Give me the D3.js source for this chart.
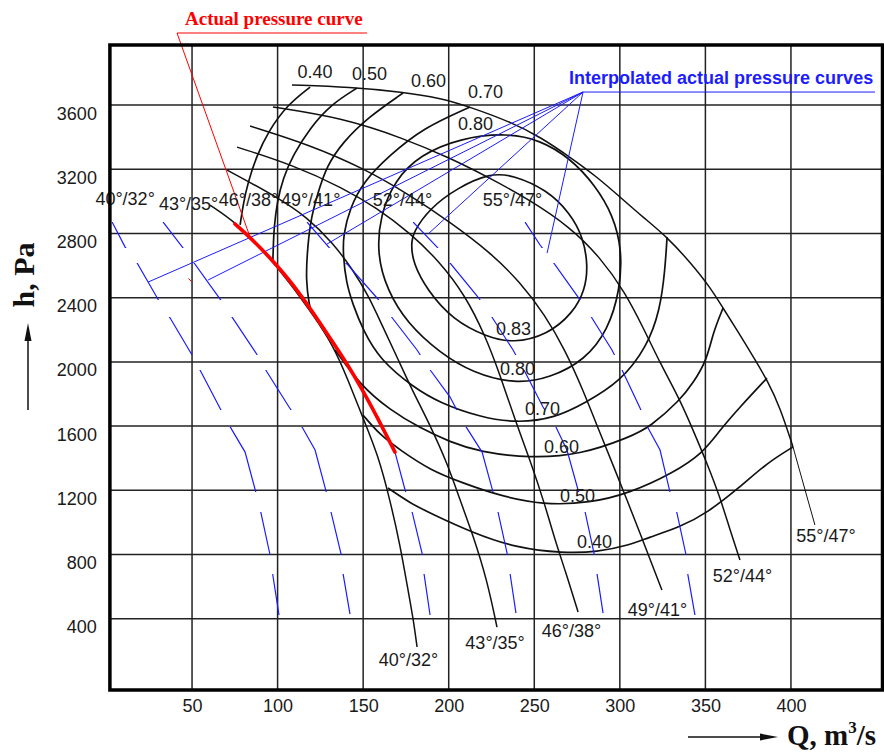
<!DOCTYPE html>
<html>
<head>
<meta charset="utf-8">
<script src="https://cdn.jsdelivr.net/npm/d3@7"></script>
<style>
  body { margin: 0; background: #fff; }
  svg { display: block; }
</style>
</head>
<body>
<svg id="chart" width="884" height="754"></svg>
<script>
// ---- axes ----
const xTicks = [50, 100, 150, 200, 250, 300, 350, 400];
const yTicks = [400, 800, 1200, 1600, 2000, 2400, 2800, 3200, 3600];

// ---- fan pressure curves by blade angle, [Q m3/s, h Pa] ----
const bladeNames = ["40°/32°", "43°/35°", "46°/38°", "49°/41°", "52°/44°", "55°/47°"];
const blade40_32 = [[60.5,2977],[76.3,2865],[93.8,2666],[107.3,2491],[120.7,2292],[132.4,2105],[141.2,1887],[149.9,1650],[158.7,1420],[165.7,1139],[171.6,859],[176.2,579],[179.2,404],[181.5,224]];
const blade43_35 = [[70.5,3195],[99.7,3027],[117.2,2902],[132.4,2740],[144.1,2572],[152.9,2416],[161.0,2230],[169.8,2030],[178.6,1825],[189.1,1607],[199.6,1357],[206.6,1139],[214.2,921],[222.4,641],[228.2,348]];
const blade46_38 = [[76.3,3338],[109.0,3226],[138.3,3083],[158.1,2958],[177.4,2803],[194.9,2622],[209.5,2416],[221.2,2167],[230.0,1918],[238.8,1638],[247.5,1389],[256.3,1108],[262.1,890],[268.0,703],[275.6,442]];
const blade49_41 = [[83.9,3469],[119.0,3351],[149.9,3208],[177.4,3039],[200.8,2871],[224.1,2684],[241.7,2497],[256.3,2292],[268.0,2074],[278.5,1825],[288.4,1557],[297.2,1326],[304.2,1139],[311.8,934],[319.4,722],[324.6,579]];
const blade52_44 = [[97.3,3588],[138.3,3519],[173.3,3394],[200.8,3270],[224.1,3145],[247.5,3008],[270.9,2840],[288.4,2653],[303.0,2435],[313.5,2217],[323.5,1993],[335.2,1762],[342.8,1575],[350.9,1370],[358.5,1158],[364.4,953],[370.2,766]];
const blade55_47 = [[108.4,3725],[142.3,3712],[173.3,3681],[194.9,3644],[212.5,3588],[237.6,3488],[253.4,3401],[270.9,3276],[286.7,3152],[300.1,3027],[313.5,2902],[327.6,2778],[341.0,2622],[352.7,2466],[360.3,2335],[368.5,2198],[380.2,1993],[386.0,1887],[393.6,1719],[401.2,1470]];
const blade55_47Leader = [[401.2,1470],[414.0,984]];

// ---- efficiency contours ----
const eff40Upper = [[119.0,3712],[105.5,3600],[94.4,3432],[88.0,3289],[82.7,3120],[79.8,2977],[78.1,2853]];
const eff40Lower = [[164.5,1214],[177.4,1121],[189.1,1058],[214.2,934],[239.9,840],[266.8,809],[286.7,815],[305.9,859],[315.9,903],[335.2,971],[350.9,1058],[370.2,1220],[386.0,1370],[401.2,1470]];
const eff50Upper = [[146.4,3706],[130.7,3600],[119.0,3457],[109.0,3289],[103.2,3145],[99.7,2996],[97.9,2834],[97.5,2720],[97.2,2622]];
const eff50Lower = [[149.9,1669],[159.9,1544],[171.6,1451],[189.1,1326],[208.4,1245],[228.2,1171],[255.1,1108],[282.6,1121],[305.9,1183],[331.1,1308],[348.6,1432],[358.5,1575],[370.2,1719],[386.0,1899]];
const eff60Upper = [[173.3,3675],[152.3,3519],[138.3,3370],[128.9,3226],[123.1,3039],[119.0,2871],[117.2,2666],[116.6,2510],[118.4,2354],[120.1,2298]];
const eff60Lower = [[133.6,2074],[148.2,1856],[165.7,1700],[183.2,1588],[200.8,1501],[218.3,1438],[247.5,1401],[276.7,1420],[305.9,1532],[317.6,1594],[335.2,1762],[342.8,1868],[350.9,2012],[354.4,2180],[360.3,2335]];
const eff70 = [[212.5,3588],[185.0,3457],[165.7,3289],[149.9,3120],[142.3,2958],[138.3,2790],[138.3,2666],[140.0,2497],[144.1,2354],[149.9,2198],[159.9,2012],[179.2,1843],[194.9,1744],[218.3,1656],[239.9,1619],[262.1,1650],[279.7,1744],[300.1,1874],[315.9,2093],[323.5,2323],[326.4,2572],[327.6,2778]];
const eff80 = [[234.1,3426],[253.4,3382],[270.9,3270],[285.5,3102],[296.0,2915],[301.3,2697],[300.1,2448],[293.1,2198],[279.7,2012],[259.2,1899],[238.8,1862],[214.2,1931],[194.9,2055],[175.6,2242],[164.0,2448],[158.1,2666],[159.9,2915],[168.6,3133],[183.2,3289],[206.6,3394]];
const eff83 = [[224.1,3176],[237.6,3164],[257.5,3071],[270.9,2927],[278.5,2778],[281.4,2603],[279.7,2448],[272.6,2304],[257.5,2167],[237.6,2117],[222.4,2155],[202.5,2261],[187.3,2448],[179.2,2616],[178.0,2728],[179.2,2809],[189.1,2958],[204.9,3083]];

// ---- measured (actual) pressure curve ----
const actualCurve = [[75.1,2859],[84.5,2770],[94.5,2660],[105.0,2535],[114.0,2410],[124.0,2255],[132.8,2115],[140.8,1985],[149.4,1830],[158.5,1650],[168.6,1438]];
const actualMark = [[47.9,2520],[49.8,2499]];

// ---- interpolated actual pressure curves (drawn broken in h bands) ----
const interp1 = [[3.3,2871],[10.9,2715],[17.9,2616],[30.7,2379],[37.2,2273],[50.0,2043],[55.9,1924],[67.5,1688],[73.4,1575],[81.0,1438],[87.4,1183],[90.3,1058],[95.6,797],[97.3,666],[100.9,417]];
const interp2 = [[33.1,2871],[44.8,2709],[51.2,2616],[66.4,2391],[73.4,2279],[87.4,2055],[93.8,1937],[106.7,1719],[114.3,1594],[121.9,1451],[128.3,1195],[131.2,1065],[137.1,803],[138.3,678],[142.3,429]];
const interp3 = [[168.6,1438],[174.5,1202],[178.6,1065],[184.4,809],[185.6,678],[189.1,423]];
const interp4 = [[117.2,2871],[132.4,2684],[141.2,2603],[158.1,2398],[165.7,2292],[181.5,2074],[187.9,1968],[200.8,1781],[208.4,1625],[219.5,1438],[225.9,1189],[228.8,1065],[234.1,809],[235.8,685],[239.3,435]];
const interp5 = [[179.2,2871],[193.2,2715],[200.8,2616],[217.1,2404],[224.1,2298],[237.6,2074],[244.6,1937],[255.1,1719],[262.1,1607],[269.1,1451],[275.6,1202],[279.7,1065],[284.9,809],[286.7,678],[290.2,435]];
const interp6 = [[244.6,2871],[253.4,2728],[261.0,2622],[275.6,2404],[282.6,2292],[295.4,2074],[301.3,1949],[311.8,1713],[316.5,1588],[323.5,1451],[329.3,1189],[333.4,1058],[338.7,797],[339.8,672],[343.9,423]];
const dashBands = [[2871,2709],[2616,2385],[2279,2043],[1949,1700],[1594,1189],[1065,797],[678,423]];

// ---- annotations ----
const interpLeaderApex = [278.5, 3681];
const interpLeaderEnds = [[24.3,2497],[59.4,2510],[128.9,2734],[187.9,2796],[257.5,2678]];
const interpUnderlineEnd = 449.1;
const actualLeaderEnd = [83.9, 2778];

const bladeLabelTop = [[10.9,2977],[48.0,2946],[83.0,2971],[119.3,2971],[173.0,2971],[237.3,2971]];
const bladeLabelBottom = [[176.5,105],[227.1,211],[271.8,286],[322.0,417],[371.7,629],[420.5,878]];
const effNamesTop = ["0.40", "0.50", "0.60", "0.70", "0.80"];
const effLabelTop = [[121.8,3768],[153.7,3756],[188.2,3712],[221.5,3644],[215.7,3444]];
const effNamesBottom = ["0.83", "0.80", "0.70", "0.60", "0.50", "0.40"];
const effLabelBottom = [[237.9,2167],[240.2,1918],[254.8,1669],[265.9,1432],[275.3,1127],[285.2,840]];

// ---- drawing ----
const SANS = "'Liberation Sans', Arial, sans-serif";
const SERIF = "'Liberation Serif', 'Times New Roman', serif";
const svg = d3.select("#chart");
const plotLeft = 109.9, plotRight = 882.5, plotTop = 45, plotBottom = 690;

const x = d3.scaleLinear().domain([2, 453.5]).range([plotLeft, plotRight]);
const y = d3.scaleLinear().domain([-44, 3974]).range([plotBottom, plotTop]);

// grid
const grid = svg.append("g").attr("stroke", "#222").attr("stroke-width", 1.5);
grid.selectAll("line.v").data(xTicks).join("line").attr("class", "v")
  .attr("x1", d => x(d)).attr("x2", d => x(d)).attr("y1", plotTop).attr("y2", plotBottom);
grid.selectAll("line.h").data(yTicks).join("line").attr("class", "h")
  .attr("y1", d => y(d)).attr("y2", d => y(d)).attr("x1", plotLeft).attr("x2", plotRight);

// axes (labels only)
const yAxis = svg.append("g").attr("transform", `translate(${plotLeft},0)`)
  .call(d3.axisLeft(y).tickValues(yTicks).tickSize(0).tickFormat(d3.format("d")));
yAxis.select(".domain").remove();
yAxis.selectAll("text").attr("x", -13).attr("dy", null).attr("y", 14)
  .attr("font-family", SANS).attr("font-size", 18).attr("fill", "#1a1a1a");

const xAxis = svg.append("g").attr("transform", `translate(0,${plotBottom})`)
  .call(d3.axisBottom(x).tickValues(xTicks).tickSize(0).tickFormat(d3.format("d")));
xAxis.select(".domain").remove();
xAxis.selectAll("text").attr("dy", null).attr("y", 22)
  .attr("font-family", SANS).attr("font-size", 18).attr("fill", "#1a1a1a");

// curve generators
const smooth = d3.line().x(d => x(d[0])).y(d => y(d[1])).curve(d3.curveBasis);
const smoothClosed = d3.line().x(d => x(d[0])).y(d => y(d[1])).curve(d3.curveBasisClosed);
const straight = d3.line().x(d => x(d[0])).y(d => y(d[1]));

// efficiency contours
const effGroup = svg.append("g").attr("fill", "none").attr("stroke", "#111").attr("stroke-width", 1.7);
[eff40Upper, eff40Lower, eff50Upper, eff50Lower, eff60Upper, eff60Lower, eff70].forEach(c =>
  effGroup.append("path").attr("d", smooth(c)));
[eff80, eff83].forEach(c => effGroup.append("path").attr("d", smoothClosed(c)));

// blade-angle pressure curves
const bladeGroup = svg.append("g").attr("fill", "none").attr("stroke", "#111").attr("stroke-width", 1.5);
[blade40_32, blade43_35, blade46_38, blade49_41, blade52_44, blade55_47].forEach(c =>
  bladeGroup.append("path").attr("d", smooth(c)));
bladeGroup.append("path").attr("d", straight(blade55_47Leader)).attr("stroke-width", 1);

// interpolated curves, clipped to h bands
const clip = svg.append("defs").append("clipPath").attr("id", "bands");
clip.selectAll("rect").data(dashBands).join("rect")
  .attr("x", plotLeft).attr("width", plotRight - plotLeft)
  .attr("y", d => y(d[0])).attr("height", d => y(d[1]) - y(d[0]));
const blue = "#1c1cff";
const interpGroup = svg.append("g").attr("fill", "none").attr("stroke", blue).attr("stroke-width", 1.2)
  .attr("clip-path", "url(#bands)");
[interp1, interp2, interp3, interp4, interp5, interp6].forEach(c =>
  interpGroup.append("path").attr("d", straight(c)));

// leaders to interpolated curves
const leaders = svg.append("g").attr("stroke", blue).attr("stroke-width", 1);
leaders.selectAll("line").data(interpLeaderEnds).join("line")
  .attr("x1", x(interpLeaderApex[0])).attr("y1", y(interpLeaderApex[1]))
  .attr("x2", d => x(d[0])).attr("y2", d => y(d[1]));
leaders.append("line")
  .attr("x1", x(interpLeaderApex[0])).attr("y1", y(interpLeaderApex[1]))
  .attr("x2", x(interpUnderlineEnd)).attr("y2", y(interpLeaderApex[1]));
svg.append("text").text("Interpolated actual pressure curves")
  .attr("x", x(interpLeaderApex[0]) - 14).attr("y", y(interpLeaderApex[1]) - 8)
  .attr("font-family", SANS).attr("font-weight", "bold").attr("font-size", 18).attr("fill", blue);

// actual pressure curve
svg.append("path").attr("d", smooth(actualCurve)).attr("fill", "none")
  .attr("stroke", "#ff0000").attr("stroke-width", 3.6).attr("stroke-linecap", "round");
svg.append("path").attr("d", straight(actualMark)).attr("stroke", "#ff0000").attr("stroke-width", 1);
const redAnno = svg.append("g").attr("stroke", "#ff0000").attr("stroke-width", 1);
redAnno.append("line").attr("x1", 177).attr("y1", 33).attr("x2", 367).attr("y2", 33);
redAnno.append("line").attr("x1", 177).attr("y1", 33)
  .attr("x2", x(actualLeaderEnd[0])).attr("y2", y(actualLeaderEnd[1]));
svg.append("text").text("Actual pressure curve").attr("x", 185).attr("y", 25)
  .attr("font-family", SERIF).attr("font-weight", "bold").attr("font-size", 19).attr("fill", "#ff0000");

// curve labels
const labels = svg.append("g").attr("font-family", SANS).attr("font-size", 18)
  .attr("fill", "#1a1a1a").attr("text-anchor", "middle");
labels.selectAll("text.bt").data(bladeLabelTop).join("text").attr("class", "bt")
  .attr("x", d => x(d[0])).attr("y", d => y(d[1])).text((d, i) => bladeNames[i]);
labels.selectAll("text.bb").data(bladeLabelBottom).join("text").attr("class", "bb")
  .attr("x", d => x(d[0])).attr("y", d => y(d[1])).text((d, i) => bladeNames[i]);
labels.selectAll("text.et").data(effLabelTop).join("text").attr("class", "et")
  .attr("x", d => x(d[0])).attr("y", d => y(d[1])).text((d, i) => effNamesTop[i]);
labels.selectAll("text.eb").data(effLabelBottom).join("text").attr("class", "eb")
  .attr("x", d => x(d[0])).attr("y", d => y(d[1])).text((d, i) => effNamesBottom[i]);

// frame
svg.append("rect").attr("x", plotLeft).attr("y", plotTop)
  .attr("width", plotRight - plotLeft).attr("height", plotBottom - plotTop)
  .attr("fill", "none").attr("stroke", "#000").attr("stroke-width", 3.5);

// axis titles with arrows
svg.append("text").attr("transform", "translate(34,275) rotate(-90)")
  .attr("text-anchor", "middle").attr("font-family", SERIF).attr("font-weight", "bold")
  .attr("font-size", 30).attr("fill", "#111").text("h, Pa");
svg.append("line").attr("x1", 28).attr("y1", 410).attr("x2", 28).attr("y2", 335)
  .attr("stroke", "#111").attr("stroke-width", 1.5);
svg.append("path").attr("d", "M28,323 L24.5,341 L31.5,341 Z").attr("fill", "#111");

const qTitle = svg.append("text").attr("x", 787).attr("y", 745)
  .attr("font-family", SERIF).attr("font-weight", "bold").attr("font-size", 29).attr("fill", "#111");
qTitle.append("tspan").text("Q, m");
qTitle.append("tspan").text("3").attr("font-size", 17).attr("dy", -12);
qTitle.append("tspan").text("/s").attr("dy", 12);
svg.append("line").attr("x1", 688).attr("y1", 737).attr("x2", 766).attr("y2", 737)
  .attr("stroke", "#111").attr("stroke-width", 1.5);
svg.append("path").attr("d", "M778,737 L760,733.5 L760,740.5 Z").attr("fill", "#111");
</script>
</body>
</html>
